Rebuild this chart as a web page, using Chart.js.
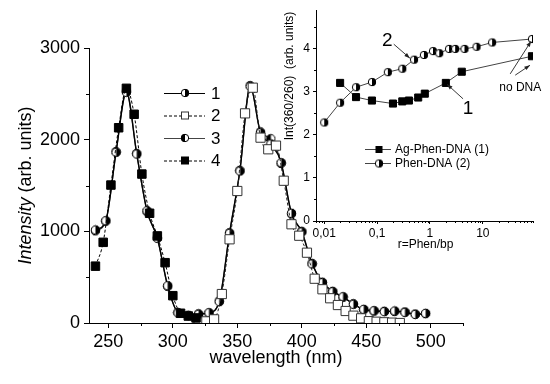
<!DOCTYPE html>
<html>
<head>
<meta charset="utf-8">
<script src="https://cdn.jsdelivr.net/npm/chart.js@4.4.1/dist/chart.umd.min.js"></script>
<style>
  html, body { margin: 0; padding: 0; background: #fff; }
  #wrap { position: relative; width: 550px; height: 384px; }
  #wrap canvas { position: absolute; left: 0; top: 0; }
</style>
</head>
<body>
<div id="wrap">
  <canvas id="mainChart" width="550" height="384"></canvas>
  <canvas id="insetChart" width="550" height="384"></canvas>
</div>
<script>
// Main spectra: wavelength (nm) / intensity (arb. units)
const wl1 = [240, 248, 256, 264, 272, 280, 288, 296, 304, 312, 320, 328, 336, 344, 352, 360, 368,
  376, 384, 392, 400, 408, 416, 424, 432, 440, 448, 456, 464, 472, 480, 488, 496];
const int1 = [1015, 1116, 1862, 2516, 1843, 1225, 924, 407, 110, 80, 95, 112, 233, 978, 1658, 2580, 2076,
  1953, 1749, 1197, 993, 644, 440, 341, 287, 204, 149, 134, 124, 131, 116, 94, 105];
const wl3 = [240, 248, 256, 264, 272, 280, 288, 296, 304, 312, 320, 328, 336, 344, 352, 360, 368,
  376, 384, 392, 400, 408, 416, 424, 432, 440, 448, 456, 464, 472, 480, 488, 496];
const int3 = [1005, 1110, 1870, 2530, 1850, 1215, 930, 400, 115, 85, 100, 108, 240, 985, 1665, 2590, 2085,
  2010, 1740, 1190, 1000, 650, 445, 345, 280, 210, 145, 130, 128, 125, 120, 98, 102];
const wl2 = [320, 326, 332, 338, 344, 350, 356, 362, 368, 374, 380, 386, 392, 398, 404, 410, 416, 422,
  428, 434, 440, 446, 452, 458, 464, 470, 476];
const int2 = [5, 18, 40, 316, 913, 1440, 2287, 2567, 2022, 1895, 1935, 1552, 1077, 952, 767, 483, 368, 270,
  196, 131, 80, 51, 20, 14, 8, 4, 0];
const wl4 = [240, 246, 252, 258, 264, 270, 276, 282, 288, 294, 300, 306, 312, 318];
const int4 = [620, 880, 1505, 2130, 2560, 2277, 1625, 1197, 950, 658, 298, 106, 76, 55];
const xTicks = [250, 300, 350, 400, 450, 500];
const xMinor = [275, 325, 375, 425, 475, 525];
const yTicks = [0, 1000, 2000, 3000];
const yMinor = [500, 1500, 2500];
const legendLabels = ['1', '2', '3', '4'];

// Inset: Int(360/260) vs r = Phen/bp
const agR = [0.02, 0.04, 0.08, 0.2, 0.3, 0.4, 0.6, 0.8, 2, 4, 85];
const agVal = [3.21, 2.88, 2.8, 2.73, 2.78, 2.8, 2.87, 2.96, 3.21, 3.47, 3.83];
const phenR = [0.01, 0.02, 0.04, 0.08, 0.16, 0.3, 0.5, 0.77, 1.14, 1.5, 2.3, 3, 4.5, 7.6, 15, 85];
const phenVal = [2.29, 2.75, 3.11, 3.23, 3.46, 3.54, 3.75, 3.86, 3.95, 3.9, 4.0, 4.0, 4.0, 4.05, 4.15, 4.23];
const insetXTicks = [0.01, 0.1, 1, 10];
const insetYTicks = [0, 1, 2, 3, 4];
const insetYMinor = [0.5, 1.5, 2.5, 3.5, 4.5];
const insetLabels = ['Ag-Phen-DNA (1)', 'Phen-DNA (2)'];

const FONT = 'Arial, "Liberation Sans", sans-serif';
const blk = '#000';

function pts(xs, ys) {
  return xs.map((x, i) => ({ x: x, y: ys[i] }));
}

// half filled circle marker
function halfDisc(d, side) {
  const c = document.createElement('canvas');
  c.width = c.height = d + 2;
  const g = c.getContext('2d');
  const m = (d + 2) / 2, r = d / 2;
  g.beginPath(); g.arc(m, m, r, 0, Math.PI * 2); g.fillStyle = '#fff'; g.fill();
  g.beginPath();
  if (side === 'right') g.arc(m, m, r, -Math.PI / 2, Math.PI / 2);
  else g.arc(m, m, r, Math.PI / 2, Math.PI * 1.5);
  g.closePath(); g.fillStyle = blk; g.fill();
  g.beginPath(); g.arc(m, m, r - 0.3, 0, Math.PI * 2); g.strokeStyle = blk; g.lineWidth = 1; g.stroke();
  return c;
}

const disc1 = halfDisc(9, 'right');
const disc3 = halfDisc(9, 'left');
const discL1 = halfDisc(8, 'right');
const discL3 = halfDisc(8, 'left');
const discIn = halfDisc(8, 'right');

function minorTicks(ctx, scale, values, len) {
  ctx.save();
  ctx.strokeStyle = blk;
  ctx.lineWidth = 1;
  ctx.beginPath();
  values.forEach(v => {
    if (scale.isHorizontal()) {
      const x = Math.round(scale.getPixelForValue(v)) + 0.5;
      if (x < scale.left - 1 || x > scale.right + 1) return;
      ctx.moveTo(x, scale.top); ctx.lineTo(x, scale.top + len);
    } else {
      const y = Math.round(scale.getPixelForValue(v)) + 0.5;
      if (y < scale.top - 1 || y > scale.bottom + 1) return;
      ctx.moveTo(scale.right, y); ctx.lineTo(scale.right - len, y);
    }
  });
  ctx.stroke();
  ctx.restore();
}

function arrow(ctx, x1, y1, x2, y2) {
  const a = Math.atan2(y2 - y1, x2 - x1);
  ctx.beginPath(); ctx.moveTo(x1, y1); ctx.lineTo(x2, y2); ctx.stroke();
  ctx.beginPath();
  ctx.moveTo(x2, y2);
  ctx.lineTo(x2 - 6 * Math.cos(a - 0.35), y2 - 6 * Math.sin(a - 0.35));
  ctx.lineTo(x2 - 6 * Math.cos(a + 0.35), y2 - 6 * Math.sin(a + 0.35));
  ctx.closePath(); ctx.fill();
}

// titles, minor ticks, legend for the main plot
const mainDecor = {
  id: 'mainDecor',
  afterDraw(chart) {
    const ctx = chart.ctx;
    const xs = chart.scales.x, ys = chart.scales.y;
    const area = chart.chartArea;
    minorTicks(ctx, xs, xMinor, 3);
    minorTicks(ctx, ys, yMinor, 3);

    ctx.save();
    ctx.fillStyle = blk;
    ctx.textBaseline = 'middle';
    ctx.textAlign = 'center';
    ctx.font = '18px ' + FONT;
    ctx.fillText('wavelength (nm)', 276, area.bottom + 35);

    // y title with italic part
    ctx.translate(26, (area.top + area.bottom) / 2);
    ctx.rotate(-Math.PI / 2);
    const p1 = 'Intensity', p2 = ' (arb. units)';
    ctx.font = 'italic 18px ' + FONT;
    const w1 = ctx.measureText(p1).width;
    ctx.font = '18px ' + FONT;
    const w2 = ctx.measureText(p2).width;
    ctx.textAlign = 'left';
    ctx.font = 'italic 18px ' + FONT;
    ctx.fillText(p1, -(w1 + w2) / 2, 0);
    ctx.font = '18px ' + FONT;
    ctx.fillText(p2, -(w1 + w2) / 2 + w1, 0);
    ctx.restore();

    // legend
    const marks = [disc1, 'open', disc3, 'filled'];
    const lx0 = area.left + 75, lx1 = area.left + 116, mx = area.left + 96;
    ctx.save();
    legendLabels.forEach((lab, i) => {
      const y = area.top + 45 + i * 22.5;
      ctx.strokeStyle = i === 2 ? '#444' : blk;
      ctx.lineWidth = 1;
      ctx.setLineDash(i % 2 === 1 ? [3, 2] : []);
      ctx.beginPath(); ctx.moveTo(lx0, y + 0.5); ctx.lineTo(lx1, y + 0.5); ctx.stroke();
      ctx.setLineDash([]);
      const m = marks[i];
      if (m === 'open' || m === 'filled') {
        ctx.fillStyle = m === 'open' ? '#fff' : blk;
        ctx.fillRect(mx - 3.5, y - 3.5, 7, 7);
        ctx.strokeStyle = m === 'open' ? '#333' : blk;
        ctx.strokeRect(mx - 3.5, y - 3.5, 7, 7);
      } else {
        const im = i === 0 ? discL1 : discL3;
        ctx.drawImage(im, mx - im.width / 2, y - im.height / 2);
      }
      ctx.fillStyle = blk;
      ctx.font = '17px ' + FONT;
      ctx.textAlign = 'left';
      ctx.textBaseline = 'middle';
      ctx.fillText(lab, lx1 + 6, y + 1);
    });
    ctx.restore();
  }
};

new Chart(document.getElementById('mainChart'), {
  type: 'line',
  data: {
    datasets: [
      {
        label: legendLabels[3], data: pts(wl4, int4),
        borderColor: blk, borderWidth: 1, borderDash: [3, 2],
        pointStyle: 'rect', pointRadius: 6, pointBackgroundColor: blk, pointBorderColor: blk,
        cubicInterpolationMode: 'monotone'
      },
      {
        label: legendLabels[1], data: pts(wl2, int2),
        borderColor: '#222', borderWidth: 1, borderDash: [3, 2],
        pointStyle: 'rect', pointRadius: 6.5, pointBackgroundColor: '#fff', pointBorderColor: '#333',
        pointBorderWidth: 1, cubicInterpolationMode: 'monotone'
      },
      {
        label: legendLabels[0], data: pts(wl1, int1),
        borderColor: blk, borderWidth: 1.3,
        pointStyle: disc1, cubicInterpolationMode: 'monotone'
      },
      {
        label: legendLabels[2], data: pts(wl3, int3),
        borderColor: '#333', borderWidth: 1.3,
        pointStyle: disc3, cubicInterpolationMode: 'monotone'
      }
    ]
  },
  options: {
    responsive: false,
    animation: false,
    devicePixelRatio: 1,
    layout: { padding: { left: 0, top: 48, right: 87, bottom: 0 } },
    plugins: { legend: { display: false }, tooltip: { enabled: false } },
    scales: {
      x: {
        type: 'linear', min: 235, max: 525,
        afterBuildTicks: s => { s.ticks = xTicks.map(v => ({ value: v })); },
        afterFit: s => { s.height = 61; },
        grid: { drawOnChartArea: false, drawTicks: true, tickLength: 5, color: blk },
        border: { display: true, color: blk, width: 1 },
        ticks: {
          color: blk, font: { size: 18, family: FONT }, padding: 3, maxRotation: 0, autoSkip: false,
          callback: v => String(v)
        }
      },
      y: {
        type: 'linear', min: 0, max: 3000,
        afterBuildTicks: s => { s.ticks = yTicks.map(v => ({ value: v })); },
        afterFit: s => { s.width = 89; },
        grid: { drawOnChartArea: false, drawTicks: true, tickLength: 5, color: blk },
        border: { display: true, color: blk, width: 1 },
        ticks: { color: blk, font: { size: 18, family: FONT }, padding: 4, callback: v => String(v) }
      }
    }
  },
  plugins: [mainDecor]
});

// inset decorations: minor ticks, titles, legend, arrows
const insetDecor = {
  id: 'insetDecor',
  afterDraw(chart) {
    const ctx = chart.ctx;
    const xs = chart.scales.x, ys = chart.scales.y;
    const area = chart.chartArea;
    const logMinor = [];
    [0.001, 0.01, 0.1, 1, 10].forEach(d => {
      for (let k = 2; k <= 9; k++) logMinor.push(k * d);
    });
    minorTicks(ctx, xs, logMinor, 2);
    minorTicks(ctx, ys, insetYMinor, 2);

    ctx.save();
    ctx.fillStyle = blk;
    ctx.font = '12px ' + FONT;
    ctx.textAlign = 'center';
    ctx.textBaseline = 'middle';
    ctx.fillText('r=Phen/bp', (area.left + area.right) / 2 + 1, area.bottom + 24);
    ctx.save();
    ctx.translate(area.left - 26, 76);
    ctx.rotate(-Math.PI / 2);
    ctx.fillText('Int(360/260)  (arb. units)', 0, 0);
    ctx.restore();

    // legend
    const lx0 = area.left + 49, lx1 = area.left + 75, mx = area.left + 63;
    insetLabels.forEach((lab, i) => {
      const y = 149 + i * 14;
      ctx.strokeStyle = '#444';
      ctx.lineWidth = 1;
      ctx.beginPath(); ctx.moveTo(lx0, y + 0.5); ctx.lineTo(lx1, y + 0.5); ctx.stroke();
      if (i === 0) {
        ctx.fillStyle = blk;
        ctx.fillRect(mx - 3.5, y - 3, 7, 7);
      } else {
        ctx.drawImage(discIn, mx - discIn.width / 2, y - discIn.height / 2 + 0.5);
      }
      ctx.fillStyle = blk;
      ctx.textAlign = 'left';
      ctx.fillText(lab, lx1 + 4, y + 1);
    });

    // annotations placed in data coordinates
    const px = (r, v) => [xs.getPixelForValue(r), ys.getPixelForValue(v)];
    ctx.strokeStyle = '#222';
    ctx.fillStyle = '#222';
    ctx.lineWidth = 0.9;
    let a = px(0.207, 4.11), b = px(0.418, 3.785);
    arrow(ctx, a[0], a[1], b[0], b[1]);
    a = px(4.23, 2.84); b = px(2.1, 3.18);
    arrow(ctx, a[0], a[1], b[0], b[1]);
    a = px(33, 3.42); b = px(82, 4.18);
    arrow(ctx, a[0], a[1], b[0], b[1]);
    a = px(41, 3.39); b = px(78, 3.62);
    arrow(ctx, a[0], a[1], b[0], b[1]);

    ctx.fillStyle = blk;
    ctx.font = '19px ' + FONT;
    ctx.textAlign = 'center';
    let t = px(0.156, 4.18);
    ctx.fillText('2', t[0], t[1]);
    t = px(5.27, 2.61);
    ctx.fillText('1', t[0], t[1]);
    ctx.font = '12px ' + FONT;
    t = px(51, 3.09);
    ctx.fillText('no DNA', t[0], t[1]);
    ctx.restore();
  }
};

new Chart(document.getElementById('insetChart'), {
  type: 'line',
  data: {
    datasets: [
      {
        label: insetLabels[0], data: pts(agR, agVal),
        borderColor: '#444', borderWidth: 1,
        pointStyle: 'rect', pointRadius: 5, pointBackgroundColor: blk, pointBorderColor: blk
      },
      {
        label: insetLabels[1], data: pts(phenR, phenVal),
        borderColor: '#444', borderWidth: 1,
        pointStyle: discIn
      }
    ]
  },
  options: {
    responsive: false,
    animation: false,
    devicePixelRatio: 1,
    layout: { padding: { left: 280, top: 8, right: 17, bottom: 133 } },
    plugins: { legend: { display: false }, tooltip: { enabled: false } },
    scales: {
      x: {
        type: 'logarithmic', min: 0.007, max: 89,
        afterBuildTicks: s => { s.ticks = insetXTicks.map(v => ({ value: v })); },
        afterFit: s => { s.height = 30; },
        grid: { drawOnChartArea: false, drawTicks: true, tickLength: 3, color: blk },
        border: { display: true, color: blk, width: 1 },
        ticks: {
          color: blk, font: { size: 12, family: FONT }, padding: 2, maxRotation: 0, autoSkip: false,
          callback: v => String(v).replace('.', ',')
        }
      },
      y: {
        type: 'linear', min: 0, max: 4.9,
        afterBuildTicks: s => { s.ticks = insetYTicks.map(v => ({ value: v })); },
        afterFit: s => { s.width = 36; },
        grid: { drawOnChartArea: false, drawTicks: true, tickLength: 3, color: blk },
        border: { display: true, color: blk, width: 1 },
        ticks: { color: blk, font: { size: 12, family: FONT }, padding: 3, callback: v => String(v) }
      }
    }
  },
  plugins: [insetDecor]
});
</script>
</body>
</html>
